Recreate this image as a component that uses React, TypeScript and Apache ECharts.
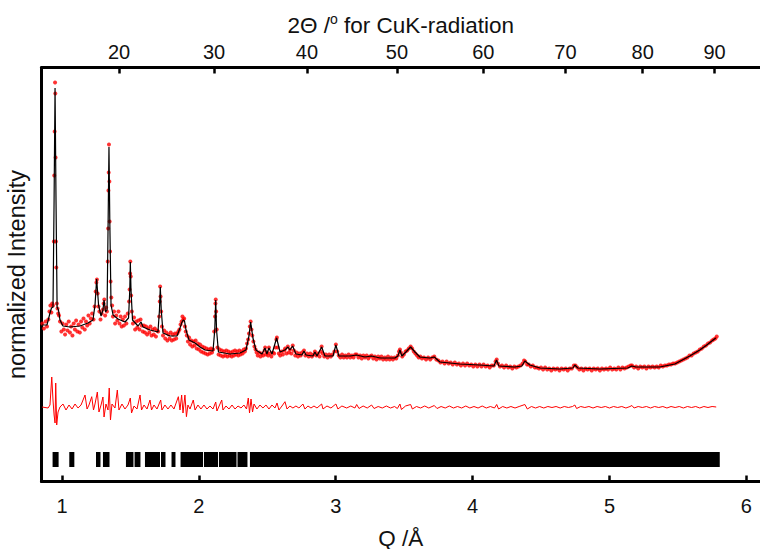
import { useEffect, useRef } from "react";
import * as echarts from "echarts";

// Wavelength of CuK-alpha radiation (Å), used for the upper 2Θ axis
const LAMBDA = 1.5406;

// Lower axis ticks (Q /Å) and upper axis ticks (2Θ / degrees)
const qTicks = [1, 2, 3, 4, 5, 6];
const twoThetaTicks = [20, 30, 40, 50, 60, 70, 80, 90];

// Calculated profile (Q, intensity in arbitrary units)
const calc: [number, number][] = [
  [0.854, 156.5], [0.89, 156.5], [0.912, 168.5], [0.923, 173.5], [0.934, 174.5], [0.942, 281.5], [0.949, 393.5],
  [0.956, 281.5], [0.964, 174.5], [0.974, 171.5], [0.985, 161.5], [1.007, 155.5], [1.058, 154.5], [1.131, 155.5],
  [1.19, 158.5], [1.226, 161.5], [1.241, 176.5], [1.253, 202.5], [1.267, 176.5], [1.285, 165.5], [1.299, 171.5],
  [1.307, 181.5], [1.318, 169.5], [1.329, 171.5], [1.337, 261.5], [1.343, 334.5], [1.349, 261.5], [1.358, 176.5],
  [1.373, 166.5], [1.409, 162.5], [1.46, 159.5], [1.486, 163.5], [1.495, 191.5], [1.499, 219.5], [1.504, 191.5],
  [1.515, 161.5], [1.555, 155.5], [1.577, 159.5], [1.592, 154.5], [1.643, 151.5], [1.701, 149.5], [1.712, 171.5],
  [1.718, 194.5], [1.725, 171.5], [1.738, 148.5], [1.789, 145.5], [1.84, 145.5], [1.862, 153.5], [1.877, 159.5],
  [1.886, 161.5], [1.895, 160.5], [1.906, 151.5], [1.928, 141.5], [1.972, 138.5], [2.008, 134.5], [2.045, 131.5],
  [2.103, 130.5], [2.116, 151.5], [2.123, 181.5], [2.129, 151.5], [2.143, 129.5], [2.227, 127.5], [2.3, 128.5],
  [2.344, 131.5], [2.366, 145.5], [2.378, 159.5], [2.395, 143.5], [2.417, 131.5], [2.461, 127.5], [2.483, 133.5],
  [2.497, 127.5], [2.512, 133.5], [2.534, 127.5], [2.568, 143.5], [2.593, 129.5], [2.629, 131.5], [2.651, 134.5],
  [2.665, 131.5], [2.685, 135.5], [2.709, 127.5], [2.753, 126.5], [2.768, 130.5], [2.782, 126.5], [2.833, 125.5],
  [2.848, 129.5], [2.863, 125.5], [2.897, 134.5], [2.921, 125.5], [2.98, 125.5], [3.001, 136.5], [3.023, 125.5],
  [3.104, 125.5], [3.153, 126.5], [3.213, 124.5], [3.262, 125.5], [3.323, 123.5], [3.432, 123.5], [3.454, 125.5],
  [3.469, 131.5], [3.483, 125.5], [3.513, 129.5], [3.547, 134.5], [3.579, 129.5], [3.615, 124.5], [3.688, 123.5],
  [3.72, 124.5], [3.761, 119.5], [3.907, 117.5], [4.053, 116.5], [4.156, 115.5], [4.175, 121.5], [4.192, 115.5],
  [4.309, 114.5], [4.36, 115.5], [4.382, 120.5], [4.419, 116.5], [4.492, 113.5], [4.638, 112.5], [4.733, 113.5],
  [4.747, 116.5], [4.769, 113.5], [4.93, 112.5], [5.134, 113.5], [5.164, 115.5], [5.193, 114.5], [5.368, 114.5],
  [5.478, 117.5], [5.587, 125.5], [5.66, 131.5], [5.711, 136.5], [5.748, 140.5], [5.777, 143.5],
];

// Observed points (Q, intensity)
const obs: [number, number][] = [
  [0.856, 158], [0.868, 153], [0.88, 160], [0.89, 155], [0.9, 162], [0.908, 170], [0.915, 176], [0.922, 169],
  [0.928, 178], [0.934, 176], [0.94, 240], [0.943, 306], [0.946, 350], [0.949, 399], [0.951, 388], [0.953, 324],
  [0.955, 240], [0.958, 214], [0.962, 178], [0.967, 173], [0.972, 168], [0.978, 166], [0.985, 160], [0.995, 150],
  [1.004, 158], [1.013, 152], [1.022, 147], [1.031, 157], [1.04, 151], [1.049, 160], [1.058, 149], [1.067, 155],
  [1.076, 146], [1.085, 158], [1.094, 152], [1.103, 161], [1.112, 150], [1.121, 157], [1.13, 149], [1.139, 160],
  [1.148, 154], [1.157, 163], [1.166, 152], [1.175, 160], [1.184, 156], [1.193, 166], [1.202, 158], [1.211, 163],
  [1.22, 168], [1.23, 162], [1.238, 175], [1.246, 190], [1.251, 199], [1.255, 202], [1.26, 188], [1.266, 175],
  [1.273, 170], [1.281, 162], [1.29, 168], [1.299, 172], [1.304, 178], [1.309, 182], [1.315, 166], [1.322, 174],
  [1.328, 170], [1.334, 220], [1.337, 253], [1.339, 291], [1.341, 309], [1.343, 337], [1.346, 300], [1.348, 260],
  [1.351, 230], [1.355, 200], [1.36, 184], [1.366, 176], [1.372, 165], [1.38, 170], [1.388, 158], [1.396, 166],
  [1.404, 161], [1.412, 170], [1.42, 158], [1.428, 165], [1.436, 155], [1.444, 162], [1.452, 156], [1.46, 165],
  [1.47, 158], [1.48, 168], [1.49, 180], [1.494, 192], [1.497, 208], [1.499, 220], [1.502, 205], [1.505, 186],
  [1.51, 170], [1.518, 158], [1.526, 164], [1.534, 152], [1.542, 160], [1.55, 154], [1.558, 161], [1.566, 152],
  [1.574, 162], [1.582, 156], [1.59, 150], [1.598, 156], [1.606, 149], [1.614, 155], [1.622, 147], [1.63, 153],
  [1.638, 149], [1.646, 155], [1.654, 146], [1.662, 152], [1.67, 147], [1.678, 153], [1.686, 145], [1.694, 151],
  [1.702, 150], [1.71, 165], [1.714, 180], [1.717, 195], [1.72, 185], [1.724, 170], [1.73, 155], [1.738, 146],
  [1.746, 151], [1.754, 143], [1.762, 149], [1.77, 141], [1.778, 147], [1.786, 143], [1.794, 149], [1.802, 141],
  [1.81, 147], [1.818, 142], [1.826, 148], [1.834, 143], [1.842, 148], [1.85, 150], [1.858, 152], [1.866, 157],
  [1.874, 160], [1.88, 165], [1.886, 162], [1.892, 163], [1.898, 155], [1.904, 150], [1.912, 146], [1.92, 140],
  [1.928, 144], [1.936, 137], [1.944, 141], [1.952, 135], [1.96, 140], [1.968, 136], [1.976, 141], [1.984, 133],
  [1.992, 138], [2.0, 132], [2.008, 137], [2.016, 130], [2.024, 135], [2.032, 129], [2.04, 134], [2.048, 128],
  [2.056, 133], [2.064, 127], [2.072, 132], [2.08, 128], [2.088, 133], [2.096, 129], [2.104, 132], [2.112, 150],
  [2.118, 165], [2.121, 178], [2.123, 182], [2.126, 170], [2.13, 152], [2.136, 134], [2.144, 127], [2.152, 132],
  [2.16, 126], [2.168, 131], [2.176, 125], [2.184, 130], [2.192, 126], [2.2, 131], [2.208, 125], [2.216, 130],
  [2.224, 126], [2.232, 129], [2.24, 125], [2.248, 130], [2.256, 126], [2.264, 131], [2.272, 127], [2.28, 130],
  [2.288, 126], [2.296, 131], [2.304, 127], [2.312, 130], [2.32, 128], [2.328, 132], [2.336, 130], [2.344, 133],
  [2.352, 138], [2.36, 142], [2.366, 148], [2.372, 155], [2.378, 160], [2.384, 152], [2.39, 146], [2.398, 140],
  [2.406, 135], [2.414, 132], [2.422, 129], [2.43, 126], [2.44, 129], [2.45, 125], [2.46, 128], [2.47, 126],
  [2.48, 131], [2.484, 134], [2.49, 127], [2.498, 129], [2.506, 126], [2.512, 134], [2.52, 128], [2.53, 125],
  [2.54, 129], [2.55, 128], [2.56, 134], [2.566, 142], [2.57, 144], [2.576, 134], [2.584, 128], [2.594, 126],
  [2.604, 130], [2.614, 127], [2.624, 131], [2.63, 133], [2.64, 128], [2.65, 135], [2.658, 129], [2.666, 132],
  [2.676, 128], [2.686, 136], [2.694, 131], [2.704, 126], [2.714, 129], [2.724, 125], [2.734, 128], [2.744, 126],
  [2.754, 129], [2.768, 131], [2.778, 126], [2.79, 128], [2.802, 125], [2.814, 128], [2.826, 125], [2.838, 127],
  [2.848, 130], [2.858, 126], [2.87, 128], [2.882, 125], [2.892, 130], [2.897, 135], [2.904, 128], [2.916, 125],
  [2.928, 127], [2.94, 124], [2.952, 127], [2.964, 125], [2.976, 127], [2.99, 130], [3.001, 137], [3.01, 130],
  [3.022, 126], [3.034, 124], [3.046, 127], [3.058, 124], [3.07, 126], [3.082, 124], [3.094, 127], [3.106, 124],
  [3.118, 126], [3.13, 124], [3.142, 127], [3.153, 127], [3.166, 124], [3.178, 126], [3.19, 123], [3.202, 126],
  [3.214, 124], [3.226, 126], [3.238, 123], [3.25, 125], [3.262, 126], [3.274, 123], [3.286, 125], [3.298, 122],
  [3.31, 125], [3.322, 123], [3.334, 125], [3.346, 122], [3.358, 124], [3.37, 122], [3.382, 125], [3.394, 122],
  [3.406, 124], [3.418, 122], [3.43, 124], [3.442, 123], [3.454, 126], [3.462, 130], [3.469, 132], [3.476, 129],
  [3.486, 125], [3.498, 127], [3.51, 130], [3.522, 131], [3.534, 133], [3.547, 135], [3.558, 133], [3.57, 130],
  [3.582, 128], [3.594, 126], [3.606, 124], [3.618, 125], [3.63, 123], [3.645, 124], [3.66, 122], [3.675, 124],
  [3.69, 122], [3.705, 124], [3.72, 125], [3.735, 122], [3.75, 121], [3.765, 119], [3.78, 120], [3.795, 118],
  [3.81, 120], [3.825, 118], [3.84, 119], [3.855, 117], [3.87, 119], [3.885, 117], [3.9, 118], [3.915, 116],
  [3.93, 118], [3.945, 116], [3.96, 118], [3.975, 116], [3.99, 117], [4.005, 115], [4.02, 117], [4.035, 115],
  [4.05, 117], [4.065, 115], [4.08, 117], [4.095, 115], [4.11, 116], [4.125, 114], [4.14, 116], [4.155, 116],
  [4.168, 120], [4.176, 122], [4.185, 118], [4.2, 115], [4.215, 116], [4.23, 114], [4.245, 116], [4.26, 114],
  [4.275, 115], [4.29, 113], [4.305, 115], [4.32, 114], [4.335, 115], [4.35, 116], [4.365, 118], [4.376, 121],
  [4.385, 120], [4.398, 117], [4.41, 117], [4.425, 115], [4.44, 116], [4.455, 114], [4.47, 114], [4.485, 113],
  [4.5, 114], [4.515, 112], [4.53, 114], [4.545, 112], [4.56, 113], [4.575, 111], [4.59, 113], [4.605, 112],
  [4.62, 113], [4.635, 111], [4.65, 113], [4.665, 112], [4.68, 113], [4.695, 111], [4.71, 113], [4.725, 113],
  [4.74, 116], [4.752, 116], [4.765, 114], [4.78, 112], [4.795, 113], [4.81, 111], [4.825, 113], [4.84, 112],
  [4.855, 113], [4.87, 111], [4.885, 113], [4.9, 112], [4.915, 113], [4.93, 111], [4.945, 113], [4.96, 112],
  [4.975, 113], [4.99, 112], [5.005, 114], [5.02, 112], [5.035, 113], [5.05, 112], [5.065, 114], [5.08, 112],
  [5.095, 114], [5.11, 113], [5.125, 114], [5.14, 115], [5.155, 116], [5.165, 116], [5.18, 114], [5.195, 115],
  [5.21, 113], [5.225, 115], [5.24, 114], [5.255, 115], [5.27, 113], [5.285, 115], [5.3, 114], [5.315, 115],
  [5.33, 114], [5.345, 115], [5.36, 114], [5.375, 116], [5.39, 115], [5.405, 116], [5.42, 116], [5.435, 117],
  [5.45, 117], [5.465, 118], [5.48, 118], [5.495, 119], [5.51, 120], [5.525, 121], [5.54, 122], [5.555, 123],
  [5.57, 124], [5.585, 126], [5.6, 126], [5.615, 128], [5.63, 129], [5.645, 130], [5.66, 132], [5.675, 133],
  [5.69, 135], [5.705, 136], [5.72, 138], [5.735, 139], [5.75, 141], [5.762, 142], [5.774, 143], [5.784, 145],
];

// Difference curve (Q, offset intensity)
const diff: [number, number][] = [
  [0.854, 74.5], [0.898, 73.5], [0.912, 76.5], [0.925, 104.5], [0.934, 81.5], [0.942, 66.5], [0.949, 58.5],
  [0.954, 98.5], [0.961, 56.5], [0.971, 69.5], [0.985, 74.5], [1.007, 77.5], [1.029, 71.5], [1.051, 76.5],
  [1.073, 72.5], [1.095, 77.5], [1.117, 73.5], [1.139, 76.5], [1.168, 86.5], [1.183, 72.5], [1.197, 76.5],
  [1.217, 84.8], [1.23, 71.5], [1.241, 77.5], [1.258, 89.5], [1.27, 69.5], [1.285, 76.5], [1.299, 84.5],
  [1.307, 64.5], [1.321, 77.5], [1.336, 71.5], [1.345, 93.5], [1.354, 61.5], [1.365, 77.5], [1.387, 73.5],
  [1.404, 91.5], [1.416, 71.5], [1.438, 77.5], [1.46, 72.5], [1.482, 76.5], [1.499, 83.5], [1.508, 68.5],
  [1.526, 75.5], [1.548, 72.5], [1.57, 86.5], [1.581, 71.5], [1.599, 76.5], [1.621, 72.5], [1.643, 81.5],
  [1.654, 71.5], [1.672, 76.5], [1.694, 72.5], [1.721, 81.5], [1.73, 71.5], [1.752, 76.5], [1.774, 72.5],
  [1.796, 76.5], [1.818, 72.5], [1.85, 84.8], [1.862, 71.5], [1.874, 86.5], [1.884, 68.5], [1.898, 86.5],
  [1.909, 64.8], [1.92, 76.5], [1.935, 72.5], [1.959, 81.5], [1.972, 71.5], [1.993, 76.5], [2.015, 72.5],
  [2.037, 76.5], [2.059, 72.5], [2.081, 75.5], [2.103, 72.5], [2.123, 79.5], [2.132, 70.5], [2.167, 81.5],
  [2.176, 71.5], [2.198, 75.5], [2.22, 72.5], [2.242, 76.5], [2.264, 72.5], [2.286, 75.5], [2.308, 73.5],
  [2.329, 76.5], [2.348, 72.5], [2.361, 83.5], [2.37, 68.5], [2.381, 82.5], [2.392, 69.5], [2.403, 77.5],
  [2.424, 72.5], [2.446, 76.5], [2.468, 73.5], [2.49, 76.5], [2.512, 72.5], [2.534, 76.5], [2.556, 73.5],
  [2.571, 78.5], [2.585, 71.5], [2.607, 75.5], [2.629, 79.8], [2.644, 72.5], [2.665, 75.5], [2.687, 73.5],
  [2.709, 75.5], [2.731, 73.5], [2.76, 77.5], [2.775, 72.5], [2.797, 75.5], [2.819, 73.5], [2.841, 75.5],
  [2.863, 73.5], [2.897, 77.5], [2.907, 72.5], [2.936, 75.5], [2.965, 73.5], [3.001, 77.5], [3.016, 72.5],
  [3.045, 75.5], [3.08, 73.5], [3.11, 75.5], [3.14, 73.5], [3.153, 77], [3.17, 73], [3.2, 75.5], [3.23, 73.5],
  [3.262, 76.5], [3.28, 73], [3.31, 75], [3.34, 73.5], [3.37, 75.5], [3.4, 73.5], [3.43, 75], [3.45, 73],
  [3.469, 77.5], [3.48, 72], [3.51, 75.5], [3.547, 77], [3.56, 72.5], [3.59, 75], [3.62, 73.5], [3.65, 75.5],
  [3.68, 73.5], [3.72, 76], [3.74, 73], [3.77, 75], [3.8, 73.5], [3.83, 75.5], [3.86, 73.5], [3.89, 75],
  [3.92, 73.5], [3.95, 75.5], [3.98, 73.5], [4.01, 75], [4.04, 73.5], [4.07, 75.5], [4.1, 73.5], [4.13, 75],
  [4.16, 73.5], [4.176, 77], [4.19, 72.5], [4.22, 75], [4.25, 73.5], [4.28, 75], [4.31, 73.5], [4.34, 75],
  [4.382, 77], [4.4, 72.5], [4.43, 75], [4.46, 73.5], [4.49, 75], [4.52, 73.5], [4.55, 75], [4.58, 74],
  [4.61, 75], [4.64, 73.5], [4.67, 75], [4.7, 74], [4.73, 75], [4.747, 76.5], [4.76, 73], [4.79, 75],
  [4.82, 74], [4.85, 75], [4.88, 73.5], [4.91, 75], [4.94, 74], [4.97, 75], [5.0, 73.5], [5.03, 75],
  [5.06, 74], [5.09, 75], [5.12, 73.5], [5.15, 75], [5.164, 76], [5.18, 73.5], [5.21, 75], [5.24, 74],
  [5.27, 75], [5.3, 73.5], [5.33, 75], [5.36, 74], [5.39, 75], [5.42, 73.5], [5.45, 75], [5.48, 74],
  [5.51, 75], [5.54, 73.5], [5.57, 75], [5.6, 74], [5.63, 75], [5.66, 73.5], [5.69, 75], [5.72, 74],
  [5.75, 75], [5.78, 74.5],
];

// Bragg reflection markers (Q ranges, start / end)
const braggStart = [0.931, 1.053, 1.248, 1.299, 1.467, 1.530, 1.606, 1.723, 1.800, 1.866, 2.037, 2.147, 2.282, 2.373];
const braggEnd = [0.975, 1.090, 1.281, 1.347, 1.522, 1.573, 1.716, 1.756, 1.829, 2.030, 2.140, 2.275, 2.355, 5.806];

const FONT = "'Liberation Sans', Arial, Helvetica, sans-serif";

export default function App() {
  const ref = useRef<HTMLDivElement>(null);
  useEffect(() => {
    if (!ref.current) return;
    const chart = echarts.init(ref.current, null, { renderer: "svg" });
    const qOf = (tt: number) => (4 * Math.PI * Math.sin(((tt / 2) * Math.PI) / 180)) / LAMBDA;
    const ttOf = (q: number) => (2 * Math.asin((q * LAMBDA) / (4 * Math.PI)) * 180) / Math.PI;
    const topVals = twoThetaTicks.map(qOf);
    const axisLine = { show: true, onZero: false, lineStyle: { color: "#000", width: 3 } };
    const tick = { show: true, inside: true, length: 6, lineStyle: { color: "#000", width: 2.5 } };
    const tickLabel = { fontSize: 20, color: "#111", fontFamily: FONT };
    const nameStyle = { fontSize: 22.5, color: "#111", fontFamily: FONT };

    chart.setOption({
      animation: false,
      grid: { left: 41.5, right: 0, top: 67.5, bottom: 67.5, containLabel: false, outerBoundsMode: "none" },
      xAxis: [
        {
          type: "value",
          min: 0.85,
          max: 6.1,
          position: "bottom",
          name: "Q /Å",
          nameLocation: "middle",
          nameGap: 45,
          nameTextStyle: { ...nameStyle },
          axisLine,
          axisTick: { ...tick, customValues: qTicks },
          axisLabel: { ...tickLabel, customValues: qTicks, margin: 14 },
          splitLine: { show: false },
        },
        {
          type: "value",
          min: 0.85,
          max: 6.1,
          position: "top",
          name: "2Θ /{sup|o} for CuK-radiation",
          nameLocation: "middle",
          nameGap: 27,
          nameTextStyle: {
            ...nameStyle,
            rich: { sup: { fontSize: 14, fontFamily: FONT, color: "#111", verticalAlign: "top", padding: [0, 0, 12, 0] } },
          },
          axisLine,
          axisTick: { ...tick, customValues: topVals },
          axisLabel: {
            ...tickLabel,
            customValues: topVals,
            margin: 6,
            formatter: (v: number) => String(Math.round(ttOf(v))),
          },
          splitLine: { show: false },
        },
      ],
      yAxis: {
        type: "value",
        min: 0,
        max: 414,
        name: "normalized Intensity",
        nameLocation: "middle",
        nameGap: 13,
        nameTextStyle: { ...nameStyle, fontSize: 23.5 },
        axisLine,
        axisTick: { show: false },
        axisLabel: { show: false },
        splitLine: { show: false },
      },
      series: [
        {
          type: "scatter",
          name: "observed",
          xAxisIndex: 0,
          data: obs,
          symbol: "circle",
          symbolSize: 4,
          itemStyle: { color: "#ff0000" },
          z: 2,
        },
        {
          type: "line",
          name: "calculated",
          xAxisIndex: 0,
          data: calc,
          showSymbol: false,
          symbol: "none",
          lineStyle: { color: "#000", width: 1.2 },
          z: 3,
        },
        {
          type: "line",
          name: "difference",
          xAxisIndex: 0,
          data: diff,
          showSymbol: false,
          symbol: "none",
          lineStyle: { color: "#ff0000", width: 1 },
          z: 3,
        },
        {
          type: "custom",
          name: "Bragg positions",
          xAxisIndex: 0,
          data: braggStart.map((s, i) => [s, braggEnd[i]]),
          renderItem: (_params: any, api: any) => {
            const a = api.coord([api.value(0), 29.5]);
            const b = api.coord([api.value(1), 14.5]);
            return {
              type: "rect",
              shape: { x: a[0], y: a[1], width: b[0] - a[0], height: b[1] - a[1] },
              style: { fill: "#000" },
            };
          },
          z: 3,
        },
      ],
    });
    return () => chart.dispose();
  }, []);
  return <div ref={ref} style={{ position: "absolute", left: 0, top: 0, width: 760, height: 549 }} />;
}
